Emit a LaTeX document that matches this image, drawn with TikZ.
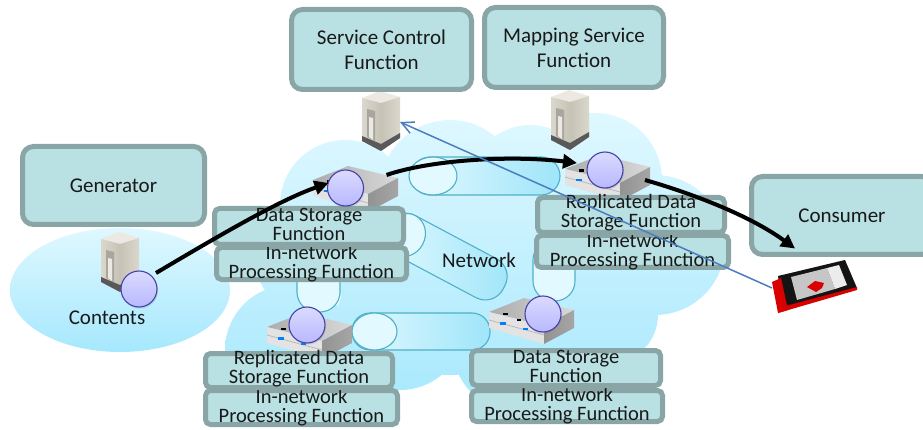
\documentclass[tikz,border=0pt]{standalone}
\usepackage{fontspec}
\setmainfont{Carlito}
\usetikzlibrary{arrows.meta,shadows}
\definecolor{boxfill}{HTML}{B9E0E2}
\definecolor{boxline}{HTML}{8AA5A6}
\definecolor{cloudtop}{HTML}{DFF8FF}
\definecolor{cloudbot}{HTML}{A6E8FD}
\definecolor{tubeline}{HTML}{4FB0C8}
\definecolor{tubelight}{HTML}{E2F9FF}
\definecolor{tubedark}{HTML}{9FE5F9}
\definecolor{ballline}{HTML}{4642A8}
\definecolor{bluelink}{HTML}{4A7EC2}
\definecolor{beigetop}{HTML}{ECE9E2}
\definecolor{beigeA}{HTML}{DAD7CC}
\definecolor{beigeB}{HTML}{C6C2B6}
\definecolor{beigeC}{HTML}{A8A69E}
\tikzset{
  x=1pt,y=-1pt,
  bigbox/.style={draw=boxline,fill=boxfill,line width=5pt,rounded corners=11pt,inner sep=0pt,font=\fontsize{21}{25}\selectfont,align=center,text=black!90},
  smallbox/.style={draw=boxline,fill=boxfill,line width=5pt,rounded corners=5pt,inner sep=0pt},
  boxtext/.style={font=\fontsize{20.5}{19}\selectfont,align=center,inner sep=0pt,text=black!90},
  plaintext/.style={font=\fontsize{21}{25}\selectfont,inner sep=0pt,text=black!90},
  cloudfill/.style={top color=cloudtop,bottom color=cloudbot},
  tube/.style={draw=tubeline,line width=1.1pt,left color=tubelight,right color=tubedark},
  tubeend/.style={draw=tubeline,line width=1.1pt,fill=tubelight},
  ball/.style={circle,draw=ballline,line width=1.1pt,top color=white!30!blue!20,bottom color=blue!28!white,minimum width=35pt,minimum height=36pt,inner sep=0pt,drop shadow={shadow xshift=1pt,shadow yshift=-1.5pt,opacity=.25}},
  flow/.style={line width=4pt,black,-{Triangle[length=14pt,width=14pt]}},
  ctrl/.style={line width=1.5pt,bluelink,-{Straight Barb[length=12pt,width=12pt]}},
  tower/.pic={
    \fill[beigetop] (0,7) -- (18,0) -- (38,6) -- (19,12) -- cycle;
    \shade[left color=beigeA,right color=beigeB] (0,7) -- (19,12) -- (19,60) -- (0,50) -- cycle;
    \shade[left color=beigeB,right color=beigeA] (19,12) -- (38,6) -- (38,47) -- (19,60) -- cycle;
    \fill[beigeC] (5,18) -- (13,20) -- (13,50) -- (5,46) -- cycle;
    \fill[beigetop] (7,26) -- (11,27) -- (11,49) -- (7,46) -- cycle;
    \fill[black!65] (0,45) -- (19,53) -- (38,42) -- (38,47) -- (19,60) -- (0,50) -- cycle;
  },
  rackserver/.pic={
    \shade[left color=gray!65,right color=gray!30] (0,14) -- (35,0) -- (85,12) -- (55,28) -- cycle;
    \fill[gray!22] (0,14) -- (55,28) -- (55,46) -- (0,30) -- cycle;
    \shade[left color=gray!85,right color=gray!70] (85,12) -- (55,28) -- (55,46) -- (85,30) -- cycle;
    \draw[gray!55,line width=.8pt] (0,22) -- (55,37);
    \fill[black] (14,14.5) rectangle (19,17);
    \fill[black] (28,21) rectangle (32,23);
    \fill[blue!50!cyan] (11,24) rectangle (17,26.5);
    \fill[blue!50!cyan] (34,30) rectangle (39,32);
  }
}
\begin{document}
\begin{tikzpicture}
\useasboundingbox (0,0) rectangle (923,430);
\clip (0,0) rectangle (923,430);
% clouds
\shade[cloudfill] (120,290) ellipse [x radius=110,y radius=62];
\shade[cloudfill] (345,205) circle (65) (450,190) circle (70) (530,185) circle (60)
  (595,180) circle (67) (655,245) circle (70) (610,315) circle (48) (520,345) circle (68)
  (400,325) circle (65) (290,350) circle (65) (450,260) circle (115) (290,270) circle (32) (570,270) circle (70);
% network links
\draw[tube] (411,157) [rounded corners=19] rectangle (560,195);
\draw[tubeend] (433,176) ellipse [x radius=24,y radius=19];
\begin{scope}[shift={(405,235)},rotate=-28]
  \draw[tube] (-20,-22) [rounded corners=20] rectangle (112,22);
  \draw[tubeend] (0,0) ellipse [x radius=20,y radius=22];
\end{scope}
\draw[tubeend,rounded corners=20] (297,250) rectangle (340,312);
\draw[tubeend,rounded corners=20] (533,240) rectangle (575,301);
\draw[tube] (352,313) [rounded corners=18] rectangle (490,350);
\draw[tubeend] (374.5,331.5) ellipse [x radius=22.5,y radius=18.5];
% equipment
\pic at (362,91) {tower};
\pic at (551,90) {tower};
\pic at (101,232) {tower};
\pic at (313,166) {rackserver};
\pic at (565,155) {rackserver};
\pic at (267,313) {rackserver};
\pic at (489,298) {rackserver};
\coordinate (towertip) at (400,122);
% function boxes
\node[bigbox,minimum width=180pt,minimum height=80pt] (svc) at (381.5,49.5) {Service Control\\Function};
\node[bigbox,minimum width=179pt,minimum height=80pt] (map) at (574,47.5) {Mapping Service\\Function};
\node[bigbox,minimum width=182pt,minimum height=78pt] (genr) at (113.5,185.5) {Generator};
\node[bigbox,minimum width=181pt,minimum height=78pt] (cons) at (842,215.5) {Consumer};
\node[smallbox,minimum width=190pt,minimum height=32pt,label={[boxtext,yshift=0pt]center:In-network\\Processing Function}] (inA) at (311.5,263.5) {};
\node[smallbox,minimum width=189pt,minimum height=36pt,label={[boxtext,yshift=2pt]center:Data Storage\\Function}] (dsA) at (309,226.5) {};
\node[smallbox,minimum width=192pt,minimum height=32pt,label={[boxtext,yshift=0pt]center:In-network\\Processing Function}] (inB) at (632.5,251.5) {};
\node[smallbox,minimum width=187pt,minimum height=35pt,label={[boxtext,yshift=2pt]center:Replicated Data\\Storage Function}] (rdB) at (631,215) {};
\node[smallbox,minimum width=192pt,minimum height=34pt,label={[boxtext,yshift=0pt]center:In-network\\Processing Function}] (inC) at (301.5,407.5) {};
\node[smallbox,minimum width=187pt,minimum height=34pt,label={[boxtext,yshift=2pt]center:Replicated Data\\Storage Function}] (rdC) at (299,370.5) {};
\node[smallbox,minimum width=191pt,minimum height=31pt,label={[boxtext,yshift=0pt]center:In-network\\Processing Function}] (inD) at (567,406) {};
\node[smallbox,minimum width=189pt,minimum height=35pt,label={[boxtext,yshift=2pt]center:Data Storage\\Function}] (dsD) at (566,368) {};
% plain labels
\node[plaintext] (contents) at (107,318) {Contents};
\node[plaintext] (network) at (479,260) {Network};
% content balls
\node[ball] (bgen) at (139,289) {};
\node[ball] (bA) at (345.5,188) {};
\node[ball] (bB) at (605,170) {};
\node[ball] (bC) at (307,325) {};
\node[ball] (bD) at (543,314) {};
% phone
\begin{scope}
  \fill[black!92] (778,276) -- (845,260) -- (857,288) -- (784,310) -- cycle;
  \fill[red!85!black] (772,282) -- (781,278) -- (788,310) -- (778,313) -- cycle;
  \fill[red!85!black] (778,313) -- (857,290) -- (857,287) -- (778,308) -- cycle;
  \fill[gray!45] (791,277) -- (827,268) -- (835,289) -- (797,300) -- cycle;
  \fill[gray!15] (827,268) -- (839,265) -- (847,285) -- (835,289) -- cycle;
  \fill[red!85!black] (807,287) -- (815,281) -- (824,283) -- (822,288) -- (816,292) -- cycle;
  \coordinate (phone) at (772,288);
\end{scope}
% connectors
\draw[flow] ([shift={(17,-16)}]bgen.center) .. controls (220,235) and (280,200) .. ([shift={(-17,-5)}]bA.center);
\draw[flow] ([shift={(41,-13)}]bA.center) .. controls (430,160) and (510,155) .. ([shift={(-28,-7)}]bB.center);
\draw[flow] ([shift={(40,10)}]bB.center) .. controls (680,190) and (745,212) .. ([shift={(-47,33)}]cons.center);
\draw[ctrl] (phone) -- (towertip);
\end{tikzpicture}
\end{document}
